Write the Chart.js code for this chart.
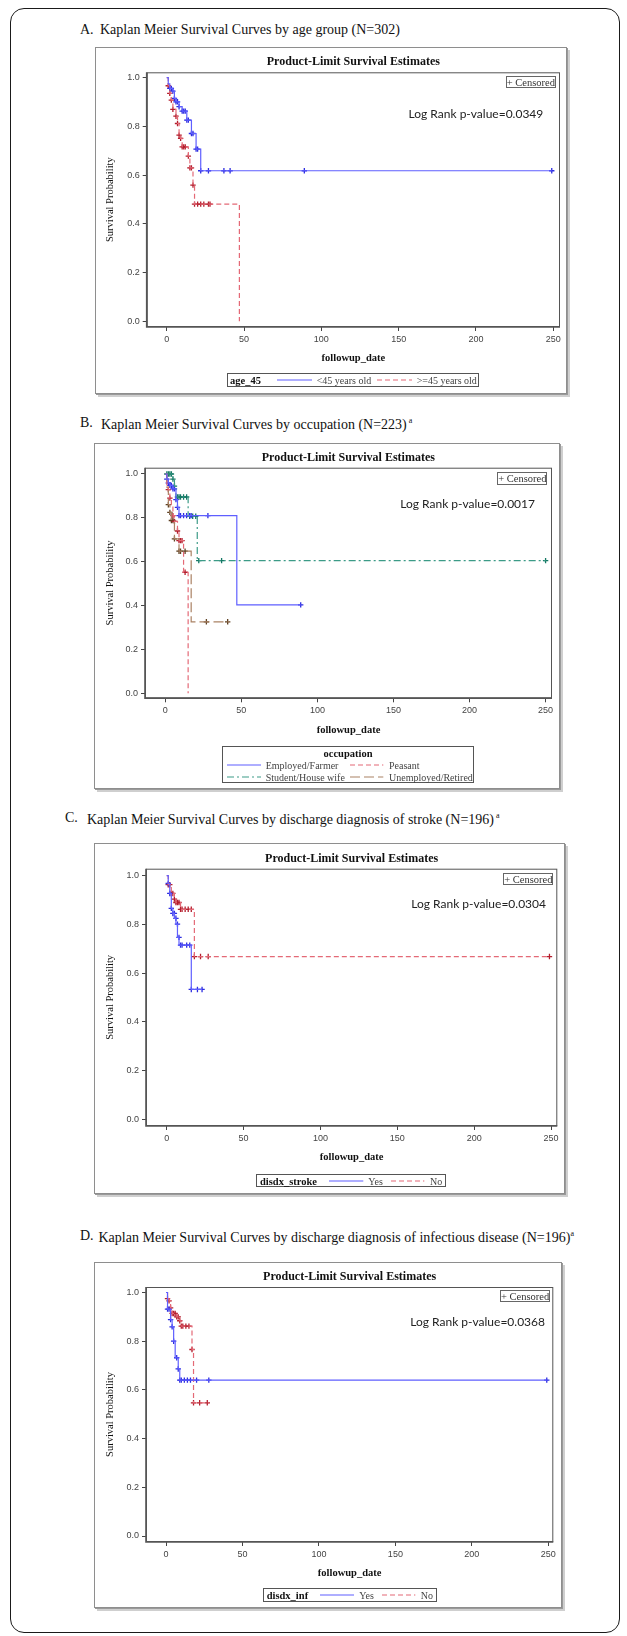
<!DOCTYPE html>
<html>
<head>
<meta charset="utf-8">
<title>Kaplan Meier Survival Curves</title>
<script src="https://cdn.jsdelivr.net/npm/chart.js@4.4.1/dist/chart.umd.min.js"></script>
<style>
  html, body { margin: 0; padding: 0; background: #fff; }
  body { position: relative; width: 627px; height: 1636px; overflow: hidden; font-family: "Liberation Serif", "Times New Roman", serif; color: #111; }
  .frame { position: absolute; left: 10px; top: 8px; width: 610px; height: 1625px; border: 1.5px solid #1a1a1a; border-radius: 14px; box-sizing: border-box; }
  .cap { position: absolute; font-size: 14px; line-height: 16px; white-space: nowrap; transform: translateY(-50%); }
  .cap sup { font-size: 8px; vertical-align: 6px; }
  .box { position: absolute; box-sizing: border-box; border: 1px solid #8e8e8e; box-shadow: 1px 1px 0 #9a9a9a, 3px 3px 0 #cfcfcf; background: #fff; }
  canvas { position: absolute; }
  .ctitle { position: absolute; font-weight: bold; font-size: 12px; white-space: nowrap; transform: translate(-50%, -50%); }
  .cens { position: absolute; box-sizing: border-box; border: 1px solid #666; font-size: 10.5px; line-height: 11px; text-align: center; white-space: nowrap; color: #333; }
  .lr { position: absolute; font-family: Lato, sans-serif; font-size: 12px; white-space: nowrap; transform: translate(-100%, -50%); color: #222; }
  .leg { position: absolute; box-sizing: border-box; border: 1px solid #555; }
  .lt { position: absolute; font-size: 10px; white-space: nowrap; transform: translateY(-50%); color: #444; }
  .lh { font-weight: bold; color: #111; font-size: 10.5px; }
  svg { position: absolute; overflow: visible; }
</style>
</head>
<body>
<div class="frame"></div>
<script>
// ---- data (time in days, survival probability) ----
const xTickVals = [0, 50, 100, 150, 200, 250];
const yTickVals = [0, 0.2, 0.4, 0.6, 0.8, 1.0];

// A. age group
const ageYoungTime = [0, 1, 2, 4, 5, 6, 8, 10, 13, 16, 19, 22, 249];
const ageYoungSurv = [1, 0.975, 0.956, 0.945, 0.915, 0.901, 0.881, 0.863, 0.826, 0.771, 0.707, 0.618, 0.618];
const ageYoungCensTime = [2, 3, 4, 5, 6, 7, 8, 10, 11, 12, 13, 14, 16, 17, 19, 20, 22, 27, 37, 41, 89, 249];
const ageYoungCensSurv = [0.956, 0.956, 0.945, 0.915, 0.901, 0.901, 0.881, 0.863, 0.863, 0.863, 0.826, 0.826, 0.771, 0.771, 0.707, 0.707, 0.618, 0.618, 0.618, 0.618, 0.618, 0.618];
const ageOldTime = [0, 1, 2, 3, 4, 6, 7, 8, 9, 10, 14, 15, 17, 18, 47];
const ageOldSurv = [1, 0.967, 0.936, 0.908, 0.87, 0.842, 0.812, 0.764, 0.751, 0.716, 0.678, 0.63, 0.559, 0.481, 0];
const ageOldCensTime = [1, 2, 3, 4, 6, 7, 8, 9, 10, 11, 12, 14, 15, 16, 17, 18, 20, 22, 24, 27, 28];
const ageOldCensSurv = [0.967, 0.936, 0.908, 0.87, 0.842, 0.812, 0.764, 0.751, 0.716, 0.716, 0.716, 0.678, 0.63, 0.63, 0.559, 0.481, 0.481, 0.481, 0.481, 0.481, 0.481];

// B. occupation
const occEmpTime = [0, 1, 2, 3, 5, 7, 8, 9, 47, 89];
const occEmpSurv = [1, 0.977, 0.959, 0.948, 0.932, 0.883, 0.848, 0.81, 0.403, 0.403];
const occEmpCensTime = [1, 2, 3, 4, 5, 6, 7, 8, 9, 10, 12, 14, 16, 17, 28, 89];
const occEmpCensSurv = [0.977, 0.959, 0.948, 0.948, 0.932, 0.932, 0.883, 0.848, 0.81, 0.81, 0.81, 0.81, 0.81, 0.81, 0.81, 0.403];
const occPeasTime = [0, 1, 2, 3, 4, 5, 6, 8, 9, 12, 15];
const occPeasSurv = [1, 0.95, 0.929, 0.89, 0.86, 0.81, 0.784, 0.74, 0.696, 0.552, 0];
const occPeasCensTime = [2, 3, 5, 6, 8, 9, 10, 11, 13];
const occPeasCensSurv = [0.929, 0.89, 0.81, 0.784, 0.74, 0.696, 0.696, 0.696, 0.552];
const occStudTime = [0, 5, 6, 7, 15, 21, 250];
const occStudSurv = [1, 0.977, 0.945, 0.895, 0.807, 0.605, 0.605];
const occStudCensTime = [1, 2, 3, 4, 5, 6, 8, 9, 10, 12, 14, 16, 18, 20, 22, 37, 250];
const occStudCensSurv = [1, 1, 1, 1, 0.977, 0.945, 0.895, 0.895, 0.895, 0.895, 0.895, 0.807, 0.807, 0.807, 0.605, 0.605, 0.605];
const occUnempTime = [0, 1, 2, 3, 4, 6, 9, 17, 42];
const occUnempSurv = [1, 0.94, 0.86, 0.825, 0.788, 0.704, 0.648, 0.326, 0.326];
const occUnempCensTime = [2, 3, 4, 5, 6, 9, 10, 13, 27, 41];
const occUnempCensSurv = [0.86, 0.825, 0.788, 0.788, 0.704, 0.648, 0.648, 0.648, 0.326, 0.326];

// C. discharge diagnosis of stroke
const strokeYesTime = [0, 1, 2, 3, 4, 5, 6, 7, 8, 16, 23];
const strokeYesSurv = [1, 0.968, 0.927, 0.866, 0.845, 0.825, 0.801, 0.747, 0.715, 0.533, 0.533];
const strokeYesCensTime = [1, 2, 3, 4, 5, 6, 7, 8, 9, 10, 13, 15, 16, 20, 23];
const strokeYesCensSurv = [0.968, 0.927, 0.866, 0.845, 0.845, 0.825, 0.801, 0.747, 0.715, 0.715, 0.715, 0.715, 0.533, 0.533, 0.533];
const strokeNoTime = [0, 1, 3, 5, 6, 9, 18, 249];
const strokeNoSurv = [1, 0.963, 0.927, 0.904, 0.89, 0.862, 0.668, 0.668];
const strokeNoCensTime = [1, 2, 3, 4, 5, 6, 7, 8, 9, 10, 12, 14, 16, 18, 22, 27, 249];
const strokeNoCensSurv = [0.963, 0.963, 0.927, 0.927, 0.904, 0.89, 0.89, 0.89, 0.862, 0.862, 0.862, 0.862, 0.862, 0.668, 0.668, 0.668, 0.668];

// D. discharge diagnosis of infectious disease
const infYesTime = [0, 1, 3, 4, 5, 6, 8, 9, 249];
const infYesSurv = [1, 0.932, 0.889, 0.859, 0.8, 0.732, 0.686, 0.64, 0.64];
const infYesCensTime = [1, 2, 3, 4, 5, 7, 8, 9, 10, 12, 14, 16, 20, 28, 249];
const infYesCensSurv = [0.932, 0.932, 0.889, 0.859, 0.8, 0.732, 0.686, 0.64, 0.64, 0.64, 0.64, 0.64, 0.64, 0.64, 0.64];
const infNoTime = [0, 1, 2, 3, 4, 7, 9, 10, 17, 18, 28];
const infNoSurv = [1, 0.975, 0.966, 0.937, 0.914, 0.9, 0.884, 0.862, 0.766, 0.547, 0.547];
const infNoCensTime = [1, 2, 3, 4, 5, 6, 7, 8, 9, 10, 11, 13, 15, 17, 18, 22, 27];
const infNoCensSurv = [0.975, 0.966, 0.937, 0.914, 0.914, 0.914, 0.9, 0.9, 0.884, 0.862, 0.862, 0.862, 0.862, 0.766, 0.547, 0.547, 0.547];

// ---- styles ----
const BLUE = { line: 'rgb(95,95,255)', mark: 'rgb(45,45,225)', dash: [] };
const RED = { line: 'rgb(228,105,118)', mark: 'rgb(180,30,45)', dash: [5, 3] };
const TEAL = { line: 'rgb(60,155,135)', mark: 'rgb(20,120,100)', dash: [7, 3, 2, 3] };
const BROWN = { line: 'rgb(170,130,100)', mark: 'rgb(95,65,35)', dash: [10, 4] };

const panels = [
  {
    tag: 'A.', caption: 'Kaplan Meier Survival Curves by age group (N=302)', sup: '', capX: [80, 100], capY: 30,
    box: { l: 95, t: 47, r: 570, b: 396.7 }, plot: { l: 146.7, t: 72.3, r: 560, b: 326.7 },
    xPx: [166.7, 553.3], yPx: [321, 77.7],
    cens: { l: 505.7, t: 75.7, r: 556, b: 88.3 }, logRank: 'Log Rank p-value=0.0349', lrPos: [543.3, 113],
    groups: [
      { name: '<45 years old', time: ageYoungTime, surv: ageYoungSurv, ct: ageYoungCensTime, cs: ageYoungCensSurv, st: BLUE },
      { name: '>=45 years old', time: ageOldTime, surv: ageOldSurv, ct: ageOldCensTime, cs: ageOldCensSurv, st: RED }
    ],
    legend: { rect: { l: 226.7, t: 373.3, r: 479, b: 387.5 }, head: ['age_45', 230, 380.4],
      items: [[0, 276.7, 311.7, 316.7, 380.4], [1, 376.7, 411.7, 416.7, 380.4]] }
  },
  {
    tag: 'B.', caption: 'Kaplan Meier Survival Curves by occupation (N=223)', sup: ' a', capX: [80, 101], capY: 423.3,
    box: { l: 94, t: 443.3, r: 562.7, b: 791.7 }, plot: { l: 145, t: 468, r: 551.7, b: 699 },
    xPx: [165.3, 545.3], yPx: [694, 474.3],
    cens: { l: 497.3, t: 472.3, r: 547.3, b: 485 }, logRank: 'Log Rank p-value=0.0017', lrPos: [535, 502.7],
    groups: [
      { name: 'Employed/Farmer', time: occEmpTime, surv: occEmpSurv, ct: occEmpCensTime, cs: occEmpCensSurv, st: BLUE },
      { name: 'Peasant', time: occPeasTime, surv: occPeasSurv, ct: occPeasCensTime, cs: occPeasCensSurv, st: RED },
      { name: 'Student/House wife', time: occStudTime, surv: occStudSurv, ct: occStudCensTime, cs: occStudCensSurv, st: TEAL },
      { name: 'Unemployed/Retired', time: occUnempTime, surv: occUnempSurv, ct: occUnempCensTime, cs: occUnempCensSurv, st: BROWN }
    ],
    legend: { rect: { l: 222, t: 745.7, r: 474, b: 782.7 }, head: ['occupation', 'center', 753.3],
      items: [[0, 226.7, 260.7, 265.7, 765], [1, 350, 383.3, 389, 765], [2, 226.7, 260.7, 265.7, 776.7], [3, 350, 383.3, 389, 776.7]] }
  },
  {
    tag: 'C.', caption: 'Kaplan Meier Survival Curves by discharge diagnosis of stroke (N=196)', sup: ' a', capX: [65, 87], capY: 818,
    box: { l: 94, t: 843.3, r: 568, b: 1196.7 }, plot: { l: 146, t: 869, r: 557.3, b: 1126.7 },
    xPx: [166.7, 551], yPx: [1120, 876],
    cens: { l: 503.3, t: 872.7, r: 553.3, b: 885 }, logRank: 'Log Rank p-value=0.0304', lrPos: [546, 903.3],
    groups: [
      { name: 'Yes', time: strokeYesTime, surv: strokeYesSurv, ct: strokeYesCensTime, cs: strokeYesCensSurv, st: BLUE },
      { name: 'No', time: strokeNoTime, surv: strokeNoSurv, ct: strokeNoCensTime, cs: strokeNoCensSurv, st: RED }
    ],
    legend: { rect: { l: 256, t: 1174, r: 446, b: 1187.3 }, head: ['disdx_stroke', 260, 1180.7],
      items: [[0, 329, 363.3, 368.3, 1180.7], [1, 391, 424.3, 430, 1180.7]] }
  },
  {
    tag: 'D.', caption: 'Kaplan Meier Survival Curves by discharge diagnosis of infectious disease (N=196)', sup: 'a', capX: [80, 98.5], capY: 1235.7,
    box: { l: 94, t: 1261.7, r: 565, b: 1610.7 }, plot: { l: 146, t: 1286.7, r: 553.3, b: 1541.7 },
    xPx: [166, 548.3], yPx: [1535.7, 1292.2],
    cens: { l: 500, t: 1290, r: 550, b: 1302.3 }, logRank: 'Log Rank p-value=0.0368', lrPos: [545, 1320.7],
    groups: [
      { name: 'Yes', time: infYesTime, surv: infYesSurv, ct: infYesCensTime, cs: infYesCensSurv, st: BLUE },
      { name: 'No', time: infNoTime, surv: infNoSurv, ct: infNoCensTime, cs: infNoCensSurv, st: RED }
    ],
    legend: { rect: { l: 263.3, t: 1588.3, r: 436.7, b: 1602 }, head: ['disdx_inf', 266.7, 1595],
      items: [[0, 320, 354, 359.3, 1595], [1, 381.7, 415, 420.7, 1595]] }
  }
];

function el(tag, cls, css, html) {
  const e = document.createElement(tag);
  if (cls) e.className = cls;
  Object.assign(e.style, css || {});
  if (html !== undefined) e.innerHTML = html;
  document.body.appendChild(e);
  return e;
}
const px = v => v + 'px';

function sampleLine(x1, x2, y, st) {
  const ns = 'http://www.w3.org/2000/svg';
  const svg = document.createElementNS(ns, 'svg');
  svg.setAttribute('width', x2 - x1);
  svg.setAttribute('height', 2);
  Object.assign(svg.style, { left: px(x1), top: px(y - 1) });
  const ln = document.createElementNS(ns, 'line');
  ln.setAttribute('x1', 0); ln.setAttribute('x2', x2 - x1);
  ln.setAttribute('y1', 1); ln.setAttribute('y2', 1);
  ln.setAttribute('stroke', st.line);
  ln.setAttribute('stroke-width', 1.2);
  if (st.dash.length) ln.setAttribute('stroke-dasharray', st.dash.join(','));
  svg.appendChild(ln);
  document.body.appendChild(svg);
}

// frame around the plot area, like SAS draws it
const plotFrame = {
  id: 'plotFrame',
  afterDatasetsDraw(chart) {
    const { ctx, chartArea: a } = chart;
    ctx.save();
    ctx.strokeStyle = '#555';
    ctx.lineWidth = 1;
    ctx.strokeRect(a.left + 0.5, a.top + 0.5, a.right - a.left - 1, a.bottom - a.top - 1);
    ctx.lineWidth = 1.6;
    ctx.beginPath();
    ctx.moveTo(a.left, a.top); ctx.lineTo(a.left, a.bottom); ctx.lineTo(a.right, a.bottom);
    ctx.stroke();
    ctx.restore();
  }
};

panels.forEach(p => {
  // caption above the panel
  el('div', 'cap', { left: px(p.capX[0]), top: px(p.capY) }, p.tag);
  el('div', 'cap', { left: px(p.capX[1]), top: px(p.capY) }, p.caption + (p.sup ? '<sup>' + p.sup + '</sup>' : ''));

  const b = p.box, pl = p.plot;
  el('div', 'box', { left: px(b.l), top: px(b.t), width: px(b.r - b.l - 3), height: px(b.b - b.t - 3) });

  const canvas = el('canvas', '', { left: px(b.l), top: px(b.t) });
  const W = Math.round(b.r - b.l), H = Math.round(b.b - b.t);
  canvas.width = W; canvas.height = H;

  // axis ranges from where the ticks sit in the reference
  const xs = 250 / (p.xPx[1] - p.xPx[0]);
  const ys = 1 / (p.yPx[0] - p.yPx[1]);
  const xMin = (pl.l - p.xPx[0]) * xs, xMax = (pl.r - p.xPx[0]) * xs;
  const yMin = (p.yPx[0] - pl.b) * ys, yMax = (p.yPx[0] - pl.t) * ys;

  const padLeft = 110.7 - 6.3 - b.l;
  const yAxisW = pl.l - b.l - padLeft;
  const xAxisH = 38;

  const datasets = [];
  p.groups.forEach(g => {
    datasets.push({
      label: g.name,
      data: g.time.map((t, i) => ({ x: t, y: g.surv[i] })),
      showLine: true, stepped: 'before', borderColor: g.st.line, borderWidth: 1.2,
      borderDash: g.st.dash, pointRadius: 0, fill: false
    });
  });
  p.groups.forEach(g => {
    datasets.push({
      label: g.name + ' censored',
      data: g.ct.map((t, i) => ({ x: t, y: g.cs[i] })),
      showLine: false, pointStyle: 'cross', pointRadius: 2.7, pointBorderWidth: 1.3,
      borderColor: g.st.mark, backgroundColor: g.st.mark
    });
  });

  const tickFont = { family: '"Liberation Sans", Arial, sans-serif', size: 9 };
  new Chart(canvas.getContext('2d'), {
    type: 'scatter',
    data: { datasets },
    options: {
      responsive: false, animation: false, devicePixelRatio: 1,
      layout: { padding: { left: padLeft, top: pl.t - b.t, right: b.r - pl.r, bottom: b.b - pl.b - xAxisH } },
      plugins: { legend: { display: false }, tooltip: { enabled: false }, title: { display: false } },
      scales: {
        x: {
          type: 'linear', min: xMin, max: xMax,
          afterBuildTicks: s => { s.ticks = xTickVals.map(v => ({ value: v })); },
          afterFit: s => { s.height = xAxisH; },
          grid: { drawOnChartArea: false, drawTicks: true, tickLength: 4, color: '#444' },
          border: { display: false },
          ticks: { font: tickFont, color: '#444', padding: 3, maxRotation: 0 },
          title: { display: true, text: 'followup_date', color: '#111', padding: { top: 0, bottom: 0 },
            font: { family: '"Liberation Serif", serif', size: 10.5, weight: 'bold' } }
        },
        y: {
          type: 'linear', min: yMin, max: yMax,
          afterBuildTicks: s => { s.ticks = yTickVals.map(v => ({ value: v })); },
          afterFit: s => { s.width = yAxisW; },
          grid: { drawOnChartArea: false, drawTicks: true, tickLength: 4, color: '#444' },
          border: { display: false },
          ticks: { font: tickFont, color: '#444', padding: 3, callback: v => Number(v).toFixed(1) },
          title: { display: true, text: 'Survival Probability', color: '#111', padding: { top: 0, bottom: 0 },
            font: { family: '"Liberation Serif", serif', size: 10.5 } }
        }
      }
    },
    plugins: [plotFrame]
  });

  // overlays: plot title, censored key, log-rank note, group legend
  el('div', 'ctitle', { left: px((pl.l + pl.r) / 2), top: px(pl.t - 11) }, 'Product-Limit Survival Estimates');
  const c = p.cens;
  el('div', 'cens', { left: px(c.l), top: px(c.t), width: px(c.r - c.l), height: px(c.b - c.t) }, '+ Censored');
  el('div', 'lr', { left: px(p.lrPos[0]), top: px(p.lrPos[1]) }, p.logRank);

  const lg = p.legend, r = lg.rect;
  el('div', 'leg', { left: px(r.l), top: px(r.t), width: px(r.r - r.l), height: px(r.b - r.t) });
  if (lg.head[1] === 'center') {
    const h = el('div', 'lt lh', { left: px((r.l + r.r) / 2), top: px(lg.head[2]) }, lg.head[0]);
    h.style.transform = 'translate(-50%, -50%)';
  } else {
    el('div', 'lt lh', { left: px(lg.head[1]), top: px(lg.head[2]) }, lg.head[0]);
  }
  lg.items.forEach(([gi, x1, x2, tx, y]) => {
    const g = p.groups[gi];
    sampleLine(x1, x2, y, g.st);
    el('div', 'lt', { left: px(tx), top: px(y) }, g.name.replace('<', '&lt;').replace('>', '&gt;'));
  });
});
</script>
</body>
</html>
